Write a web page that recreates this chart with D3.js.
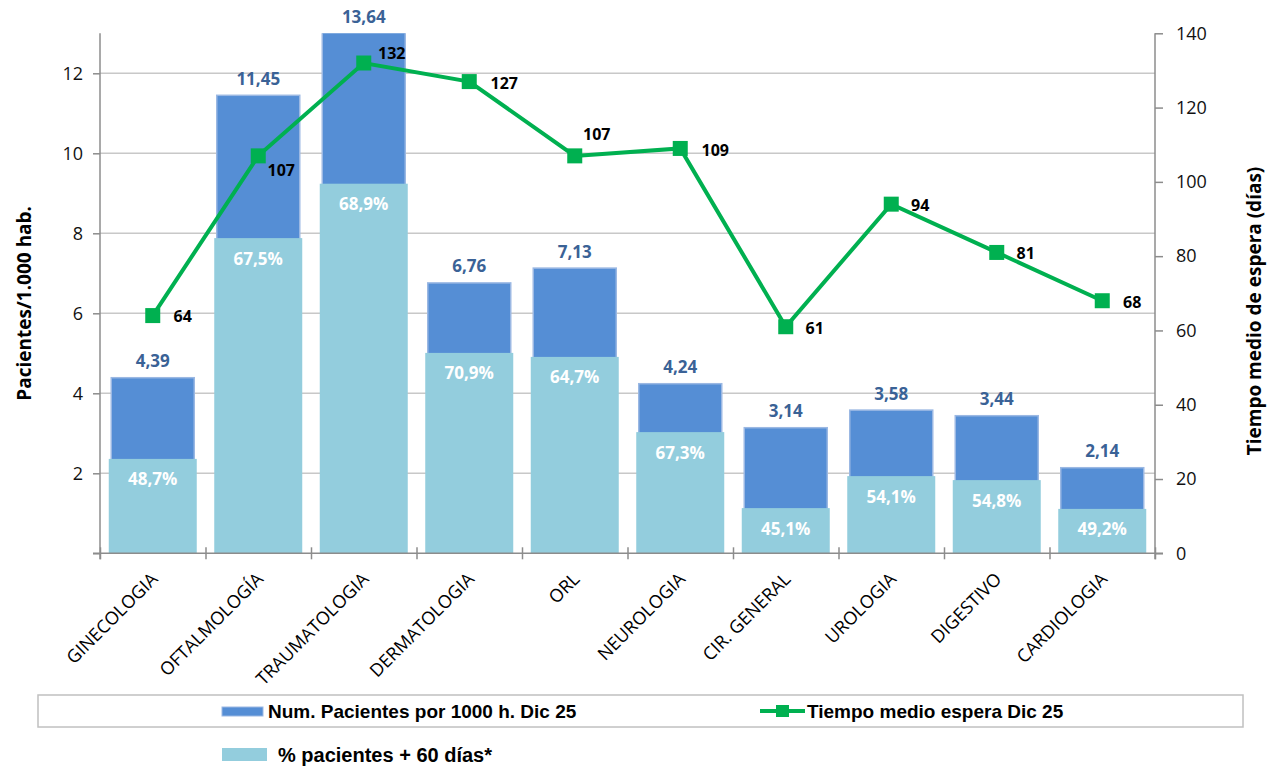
<!DOCTYPE html>
<html>
<head>
<meta charset="utf-8">
<script src="https://cdn.jsdelivr.net/npm/d3@7"></script>
<style>
  html, body { margin: 0; padding: 0; background: #fff; }
  svg { display: block; }
</style>
</head>
<body>
<svg id="chart" width="1270" height="768"></svg>
<script>
// ---------------- DATA ----------------
const categories = ["GINECOLOGIA","OFTALMOLOGÍA","TRAUMATOLOGIA","DERMATOLOGIA","ORL","NEUROLOGIA","CIR. GENERAL","UROLOGIA","DIGESTIVO","CARDIOLOGIA"];
const pacientes = [4.39, 11.45, 13.64, 6.76, 7.13, 4.24, 3.14, 3.58, 3.44, 2.14];
const pacientes60 = [2.36, 7.88, 9.24, 5.01, 4.91, 3.03, 1.13, 1.93, 1.83, 1.11];
const pct60 = [48.7, 67.5, 68.9, 70.9, 64.7, 67.3, 45.1, 54.1, 54.8, 49.2];
const tiempo = [64, 107, 132, 127, 107, 109, 61, 94, 81, 68];
const leftTicks = [0, 2, 4, 6, 8, 10, 12];
const rightTicks = [0, 20, 40, 60, 80, 100, 120, 140];
const legendLabels = ["Num. Pacientes por 1000 h. Dic 25", "Tiempo medio espera Dic 25", "% pacientes + 60 días*"];
const leftTitle = "Pacientes/1.000 hab.";
const rightTitle = "Tiempo medio de espera (días)";

// ---------------- LAYOUT ----------------
const plot = { left: 100, right: 1155, top: 33.3, bottom: 553.3 };
const lineLabelOffsets = [[30,0],[23,14],[28,-10],[35,1],[22,-22],[35,2],[29,1],[29,1],[29,1],[30,1]];
const C = {
  dark: "#558ED5", darkStroke: "#9BB8E3", light: "#93CDDD", line: "#00B050",
  grid: "#C8C8C8", axis: "#8C8C8C", valText: "#3A6296"
};
const svg = d3.select("#chart");

const x = d3.scaleBand().domain(categories).range([plot.left, plot.right]).paddingInner(0).paddingOuter(0);
const yL = d3.scaleLinear().domain([0, 13]).range([plot.bottom, plot.top]);
const yR = d3.scaleLinear().domain([0, 140]).range([plot.bottom, plot.top]);
const xb = d3.scaleLinear().domain([0, categories.length]).range([plot.left, plot.right]);

const comma = (f) => (v) => f(v).replace(".", ",");
const fmt2 = comma(d3.format(".2f"));
const fmt1 = comma(d3.format(".1f"));

// gridlines
svg.append("g").selectAll("line").data(leftTicks.filter(d => d > 0)).join("line")
  .attr("x1", plot.left).attr("x2", plot.right)
  .attr("y1", d => yL(d)).attr("y2", d => yL(d))
  .attr("stroke", C.grid).attr("stroke-width", 1.5);

// clip for bars
svg.append("clipPath").attr("id", "plotclip").append("rect")
  .attr("x", plot.left).attr("y", plot.top).attr("width", plot.right - plot.left).attr("height", plot.bottom - plot.top);

const bw = x.bandwidth();
const darkW = 83, lightW = 88;
const bars = svg.append("g").attr("clip-path", "url(#plotclip)");
bars.selectAll("rect.dark").data(categories).join("rect").attr("class", "dark")
  .attr("x", d => x(d) + bw / 2 - darkW / 2)
  .attr("y", (d, i) => yL(pacientes[i]))
  .attr("width", darkW)
  .attr("height", (d, i) => yL(0) - yL(pacientes[i]) + 2)
  .attr("fill", C.dark).attr("stroke", C.darkStroke).attr("stroke-width", 1.5);
bars.selectAll("rect.light").data(categories).join("rect").attr("class", "light")
  .attr("x", d => x(d) + bw / 2 - lightW / 2)
  .attr("y", (d, i) => yL(pacientes60[i]))
  .attr("width", lightW)
  .attr("height", (d, i) => yL(0) - yL(pacientes60[i]))
  .attr("fill", C.light);

// axes
const axL = svg.append("g").attr("transform", `translate(${plot.left},0)`)
  .call(d3.axisLeft(yL).tickValues(leftTicks).tickSize(7).tickPadding(10).tickFormat(d => d === 0 ? "" : d));
const axR = svg.append("g").attr("transform", `translate(${plot.right},0)`)
  .call(d3.axisRight(yR).tickValues(rightTicks).tickSize(8).tickPadding(13));
[axL, axR].forEach(a => {
  a.selectAll(".tick line").attr("stroke", C.axis).attr("stroke-width", 1.5);
  a.selectAll(".tick text").attr("font-family", "'Open Sans', sans-serif").attr("font-size", 18).attr("fill", "#111");
});
axL.select(".domain").remove();
axR.select(".domain").remove();
svg.append("line").attr("x1", plot.left).attr("x2", plot.left).attr("y1", plot.top).attr("y2", plot.bottom + 6)
  .attr("stroke", C.axis).attr("stroke-width", 1.5);
svg.append("line").attr("x1", plot.right).attr("x2", plot.right).attr("y1", plot.top).attr("y2", plot.bottom + 6)
  .attr("stroke", C.axis).attr("stroke-width", 1.5);

// bottom axis: boundary ticks
const axB = svg.append("g").attr("transform", `translate(0,${plot.bottom})`)
  .call(d3.axisBottom(xb).tickValues(d3.range(0, categories.length + 1)).tickSize(6).tickFormat(""));
axB.select(".domain").remove();
axB.selectAll(".tick line").attr("y1", -6).attr("y2", 6).attr("stroke", C.axis).attr("stroke-width", 1.5);
svg.append("line").attr("x1", plot.left - 7).attr("x2", plot.right + 8).attr("y1", plot.bottom).attr("y2", plot.bottom)
  .attr("stroke", C.axis).attr("stroke-width", 1.5);

// category labels
const axC = svg.append("g").attr("transform", `translate(0,${plot.bottom})`)
  .call(d3.axisBottom(x).tickSize(0));
axC.select(".domain").remove();
axC.selectAll(".tick text")
  .attr("x", 0).attr("y", 0).attr("dy", 0)
  .attr("transform", "translate(6,27) rotate(-45)")
  .attr("text-anchor", "end")
  .attr("font-family", "'Open Sans', sans-serif").attr("font-size", 18).attr("fill", "#000");

// value labels above bars
svg.append("g").selectAll("text").data(categories).join("text")
  .attr("x", d => x(d) + bw / 2)
  .attr("y", (d, i) => yL(Math.min(pacientes[i], 13)) - 17)
  .attr("text-anchor", "middle").attr("dominant-baseline", "central")
  .attr("font-family", "'Open Sans', sans-serif").attr("font-weight", "bold").attr("font-size", 17)
  .attr("fill", C.valText)
  .text((d, i) => fmt2(pacientes[i]));

// percent labels
svg.append("g").selectAll("text").data(categories).join("text")
  .attr("x", d => x(d) + bw / 2)
  .attr("y", (d, i) => yL(pacientes60[i]) + 20)
  .attr("text-anchor", "middle").attr("dominant-baseline", "central")
  .attr("font-family", "'Open Sans', sans-serif").attr("font-weight", "bold").attr("font-size", 17)
  .attr("fill", "#fff")
  .text((d, i) => fmt1(pct60[i]) + "%");

// line
const line = d3.line().x((d, i) => x(categories[i]) + bw / 2).y(d => yR(d));
svg.append("path").datum(tiempo).attr("d", line)
  .attr("fill", "none").attr("stroke", C.line).attr("stroke-width", 4).attr("stroke-linejoin", "miter");
const ms = 15;
svg.append("g").selectAll("rect").data(tiempo).join("rect")
  .attr("x", (d, i) => x(categories[i]) + bw / 2 - ms / 2)
  .attr("y", d => yR(d) - ms / 2)
  .attr("width", ms).attr("height", ms).attr("fill", C.line);
svg.append("g").selectAll("text").data(tiempo).join("text")
  .attr("x", (d, i) => x(categories[i]) + bw / 2 + lineLabelOffsets[i][0])
  .attr("y", (d, i) => yR(d) + lineLabelOffsets[i][1])
  .attr("text-anchor", "middle").attr("dominant-baseline", "central")
  .attr("font-family", "'Open Sans', sans-serif").attr("font-weight", "bold").attr("font-size", 16)
  .attr("fill", "#000")
  .text(d => d);

// axis titles
svg.append("text").attr("transform", `translate(24,${(plot.top + plot.bottom) / 2 + 10}) rotate(-90)`)
  .attr("text-anchor", "middle").attr("dominant-baseline", "central")
  .attr("font-family", "'Open Sans', sans-serif").attr("font-weight", "bold").attr("font-size", 19)
  .text(leftTitle);
svg.append("text").attr("transform", `translate(1254,311) rotate(-90)`)
  .attr("text-anchor", "middle").attr("dominant-baseline", "central")
  .attr("font-family", "'Open Sans', sans-serif").attr("font-weight", "bold").attr("font-size", 19)
  .text(rightTitle);

// legend
const lf = "'Liberation Sans', Arial, sans-serif";
svg.append("rect").attr("x", 38).attr("y", 695).attr("width", 1205).attr("height", 32)
  .attr("fill", "#fff").attr("stroke", "#C0C0C0").attr("stroke-width", 1.5);
svg.append("rect").attr("x", 222).attr("y", 707).attr("width", 41).attr("height", 9)
  .attr("fill", C.dark).attr("stroke", C.darkStroke).attr("stroke-width", 1);
svg.append("text").attr("x", 268).attr("y", 711.5).attr("dominant-baseline", "central")
  .attr("font-family", lf).attr("font-weight", "bold").attr("font-size", 19).text(legendLabels[0]);
svg.append("line").attr("x1", 760).attr("x2", 805).attr("y1", 711).attr("y2", 711)
  .attr("stroke", C.line).attr("stroke-width", 4);
svg.append("rect").attr("x", 776).attr("y", 705).attr("width", 13).attr("height", 12).attr("fill", C.line);
svg.append("text").attr("x", 807).attr("y", 711.5).attr("dominant-baseline", "central")
  .attr("font-family", lf).attr("font-weight", "bold").attr("font-size", 19).text(legendLabels[1]);
svg.append("rect").attr("x", 222).attr("y", 748).attr("width", 45).attr("height", 13).attr("fill", C.light);
svg.append("text").attr("x", 278).attr("y", 755).attr("dominant-baseline", "central")
  .attr("font-family", lf).attr("font-weight", "bold").attr("font-size", 20).text(legendLabels[2]);
</script>
</body>
</html>
